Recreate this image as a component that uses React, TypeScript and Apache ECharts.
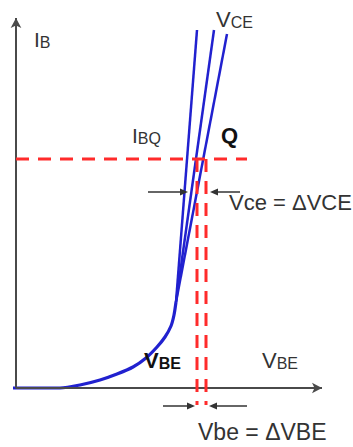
import React, { useEffect, useRef } from "react";
import * as echarts from "echarts";

// Data space: origin of the IB / VBE axes at (0, 0)
const xRange = [-16, 337];
const yRange = [-59, 388];

// Input characteristic IB(VBE) before the VCE fan
const inputCurve: number[][] = [
  [-3, 0], [44, 0], [64, 3], [84, 8], [101, 14], [117, 21], [130, 30],
  [141, 41], [149, 51], [155, 62], [158, 73], [160, 86],
];
// Fan of lines for different VCE
const vceStart: number[] = [160, 86];
const vceTops: number[][] = [[181, 358], [198, 358], [211, 354]];

// Quiescent point guides
const ibqLevel = 229;
const ibqEndX = 231;
const vbeQ: number[] = [181, 190];
const vbeGuideBottom = -17;

// Axes ends
const xAxisEnd = 306;
const yAxisEnd = 370;

// Dimension arrows [from, to]
const vceArrowY = 196;
const vceArrows: number[][] = [[132, 168], [224, 198]];
const vbeArrowY = -18;
const vbeArrows: number[][] = [[147, 175], [231, 197]];

const BLUE = "#2121cf";
const RED = "#ff2b2b";
const FONT = "Liberation Sans, Arial, sans-serif";

function subLabel(
  x: number,
  y: number,
  big: string,
  small: string,
  bigSize: number,
  smallSize: number,
  color: string,
  weight: string = "normal"
) {
  return {
    type: "text",
    x,
    y,
    z: 100,
    style: {
      text: `{a|${big}}{b|${small}}`,
      verticalAlign: "bottom",
      align: "left",
      rich: {
        a: { fontSize: bigSize, fontFamily: FONT, fill: color, fontWeight: weight, verticalAlign: "bottom" },
        b: { fontSize: smallSize, fontFamily: FONT, fill: color, fontWeight: weight, verticalAlign: "bottom" },
      },
    },
  };
}

function plainLabel(x: number, y: number, text: string, size: number, color: string, weight = "normal") {
  return {
    type: "text",
    x,
    y,
    z: 100,
    style: {
      text,
      fontSize: size,
      fontFamily: FONT,
      fontWeight: weight,
      fill: color,
      align: "left",
      verticalAlign: "bottom",
    },
  };
}

export default function App() {
  const ref = useRef<HTMLDivElement>(null);
  useEffect(() => {
    document.body.style.margin = "0";
    document.body.style.overflow = "hidden";
    const chart = echarts.init(ref.current!, null, { renderer: "svg" });
    const dashed = (pts: number[][]) => ({
      type: "line",
      data: pts,
      showSymbol: false,
      symbol: "none",
      silent: true,
      clip: false,
      z: 5,
      lineStyle: { color: RED, width: 3, type: [13, 9] },
    });
    chart.setOption({
      animation: false,
      grid: { left: 0, right: 0, top: 0, bottom: 0 },
      xAxis: { type: "value", min: xRange[0], max: xRange[1], show: false },
      yAxis: { type: "value", min: yRange[0], max: yRange[1], show: false },
      series: [
        {
          type: "line",
          data: [],
          z: 1,
          markLine: {
            silent: true,
            animation: false,
            symbol: ["none", "arrow"],
            symbolSize: [8, 10],
            label: { show: false },
            emphasis: { disabled: true },
            lineStyle: { color: "#4a4a4a", width: 2, type: "solid" },
            data: [
              [{ coord: [0, 0] }, { coord: [xAxisEnd, 0] }],
              [{ coord: [0, 0] }, { coord: [0, yAxisEnd] }],
            ],
          },
        },
        {
          type: "line",
          data: inputCurve,
          smooth: 0.25,
          showSymbol: false,
          symbol: "none",
          silent: true,
          clip: false,
          z: 3,
          lineStyle: { color: BLUE, width: 3.2 },
        },
        ...vceTops.map((t) => ({
          type: "line",
          data: [vceStart, t],
          showSymbol: false,
          symbol: "none",
          silent: true,
          clip: false,
          z: 3,
          lineStyle: { color: BLUE, width: 2.5 },
        })),
        dashed([[0, ibqLevel], [ibqEndX, ibqLevel]]),
        ...vbeQ.map((x) => dashed([[x, ibqLevel], [x, vbeGuideBottom]])),
        {
          type: "line",
          data: [],
          z: 8,
          markLine: {
            silent: true,
            animation: false,
            symbol: ["none", "triangle"],
            symbolSize: [7, 8],
            label: { show: false },
            emphasis: { disabled: true },
            lineStyle: { color: "#333", width: 1.5, type: "solid" },
            data: [
              ...vceArrows.map((a) => [{ coord: [a[0], vceArrowY] }, { coord: [a[1], vceArrowY] }]),
              ...vbeArrows.map((a) => [{ coord: [a[0], vbeArrowY] }, { coord: [a[1], vbeArrowY] }]),
            ],
          },
        },
      ],
      graphic: [
        subLabel(34, 50, "I", "B", 21, 16, "#333"),
        subLabel(216, 30, "V", "CE", 22, 16, "#333"),
        subLabel(132, 146, "I", "BQ", 21, 16, "#333"),
        plainLabel(221, 146, "Q", 22, "#111", "bold"),
        plainLabel(229, 213, "Vce = ΔVCE", 22, "#333"),
        subLabel(144, 371, "V", "BE", 22, 16, "#111", "bold"),
        subLabel(262, 371, "V", "BE", 22, 16, "#333"),
        plainLabel(198, 443, "Vbe = ΔVBE", 23, "#333"),
      ],
    });
    return () => chart.dispose();
  }, []);
  return <div ref={ref} style={{ width: 353, height: 447 }} />;
}
